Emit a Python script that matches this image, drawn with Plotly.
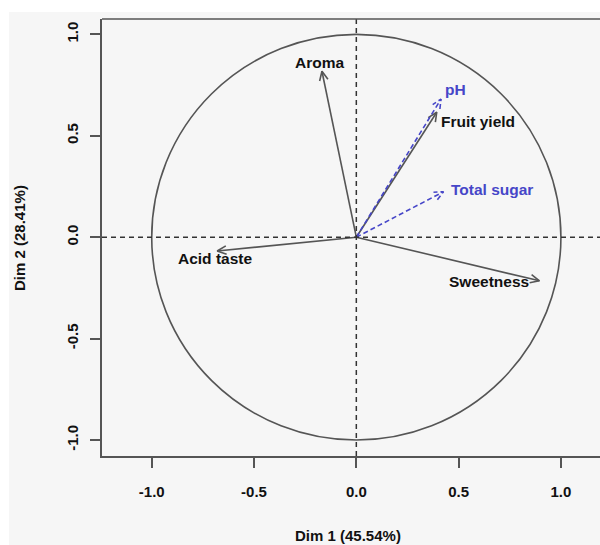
import numpy as np
import plotly.graph_objects as go

# ---- data ----
active_vars = ["Aroma", "Fruit yield", "Acid taste", "Sweetness"]
active_dim1 = [-0.168, 0.393, -0.680, 0.895]
active_dim2 = [0.818, 0.616, -0.068, -0.215]

supp_vars = ["pH", "Total sugar"]
supp_dim1 = [0.414, 0.426]
supp_dim2 = [0.681, 0.224]

x_ticks = [-1.0, -0.5, 0.0, 0.5, 1.0]
y_ticks = [-1.0, -0.5, 0.0, 0.5, 1.0]
x_title = "Dim 1 (45.54%)"
y_title = "Dim 2 (28.41%)"

# ---- layout / style ----
W, H = 600, 545
ML, MR, MT, MB = 102, 0, 19, 89
XR = [-1.243, 1.191]
YR = [-1.0786, 1.0757]
PW, PH = W - ML - MR, H - MT - MB
SX = PW / (XR[1] - XR[0])
SY = PH / (YR[1] - YR[0])

BG = "#f6f6f6"
GREY = "#555555"
BLUE = "#4646c8"
FONT = "Arial, Liberation Sans, sans-serif"

# label placement: xanchor, xshift, yshift (pixels)
label_pos = {
    "Aroma": ("center", -2, 9),
    "Fruit yield": ("left", 2, -9),
    "Acid taste": ("center", -2, -7),
    "Sweetness": ("right", -8, -1),
    "pH": ("left", 2, 10),
    "Total sugar": ("left", 6, 2),
}


def arrow_xy(tx, ty, L=10, ang=25):
    px, py = tx * SX, ty * SY
    n = np.hypot(px, py)
    ux, uy = px / n, py / n
    xs, ys = [0, tx, None], [0, ty, None]
    hx, hy = [], []
    for s in (1, -1):
        a = np.radians(ang) * s
        rx = ux * np.cos(a) - uy * np.sin(a)
        ry = ux * np.sin(a) + uy * np.cos(a)
        hx.append(tx - L * rx / SX)
        hy.append(ty - L * ry / SY)
    xs += [hx[0], tx, hx[1]]
    ys += [hy[0], ty, hy[1]]
    return xs, ys


fig = go.Figure()

for name, x, y in zip(active_vars, active_dim1, active_dim2):
    xs, ys = arrow_xy(x, y)
    fig.add_trace(go.Scatter(x=xs, y=ys, mode="lines", hoverinfo="skip",
                             line=dict(color=GREY, width=1.6), showlegend=False))

for name, x, y in zip(supp_vars, supp_dim1, supp_dim2):
    xs, ys = arrow_xy(x, y)
    fig.add_trace(go.Scatter(x=xs, y=ys, mode="lines", hoverinfo="skip",
                             line=dict(color=BLUE, width=1.6, dash="5px,3px"),
                             showlegend=False))

annotations = []
for names, xv, yv, col in ((active_vars, active_dim1, active_dim2, "#111111"),
                           (supp_vars, supp_dim1, supp_dim2, BLUE)):
    for name, x, y in zip(names, xv, yv):
        xa, xsft, ysft = label_pos[name]
        annotations.append(dict(x=x, y=y, xref="x", yref="y", text=f"<b>{name}</b>",
                                showarrow=False, xanchor=xa, yanchor="middle",
                                xshift=xsft, yshift=ysft,
                                font=dict(family=FONT, size=15.5, color=col)))

annotations.append(dict(x=(348 - ML) / PW, y=(H - MB - 535) / PH, xref="paper", yref="paper",
                        text=f"<b>{x_title}</b>", showarrow=False,
                        xanchor="center", yanchor="middle",
                        font=dict(family=FONT, size=15, color="#111111")))
annotations.append(dict(x=(19 - ML) / PW, y=(H - MB - 238) / PH, xref="paper", yref="paper",
                        text=f"<b>{y_title}</b>", showarrow=False, textangle=-90,
                        xanchor="center", yanchor="middle",
                        font=dict(family=FONT, size=15, color="#111111")))

shapes = [
    # white strips at top and left of the picture
    dict(type="rect", xref="paper", yref="paper", x0=-ML / PW, x1=1, y0=(H - MB - 12) / PH,
         y1=(H - MB) / PH, fillcolor="white", line=dict(width=0), layer="below"),
    dict(type="rect", xref="paper", yref="paper", x0=-ML / PW, x1=(9 - ML) / PW,
         y0=-MB / PH, y1=(H - MB) / PH, fillcolor="white", line=dict(width=0), layer="below"),
    # unit circle
    dict(type="circle", xref="x", yref="y", x0=-1, x1=1, y0=-1, y1=1,
         line=dict(color=GREY, width=1.6)),
    # zero lines
    dict(type="line", xref="x", yref="paper", x0=0, x1=0, y0=0, y1=1,
         line=dict(color="#333333", width=1.5, dash="5px,4px")),
    dict(type="line", xref="paper", yref="y", x0=0, x1=1, y0=0, y1=0,
         line=dict(color="#333333", width=1.5, dash="5px,4px")),
    # frame (top)
    dict(type="line", xref="paper", yref="paper", x0=0, x1=1, y0=1, y1=1,
         line=dict(color=GREY, width=1.6)),
]

fig.update_layout(
    width=W, height=H,
    margin=dict(l=ML, r=MR, t=MT, b=MB, pad=0),
    paper_bgcolor=BG, plot_bgcolor=BG,
    shapes=shapes, annotations=annotations,
    xaxis=dict(range=XR, tickvals=x_ticks, ticktext=[f"<b>{v:.1f}</b>" for v in x_ticks],
               showgrid=False, zeroline=False, showline=True, linecolor=GREY, linewidth=1.6,
               ticks="outside", ticklen=10, tickwidth=1.5, tickcolor=GREY,
               ticklabelstandoff=11,
               tickfont=dict(family=FONT, size=15, color="#111111"), fixedrange=True),
    yaxis=dict(range=YR, tickvals=y_ticks, ticktext=[f"<b>{v:.1f}</b>" for v in y_ticks],
               showgrid=False, zeroline=False, showline=True, linecolor=GREY, linewidth=1.6,
               ticks="outside", ticklen=10, tickwidth=1.5, tickcolor=GREY, tickangle=-90,
               ticklabelstandoff=6,
               tickfont=dict(family=FONT, size=15, color="#111111"), fixedrange=True),
    font=dict(family=FONT),
)

fig.write_html("out.html")
